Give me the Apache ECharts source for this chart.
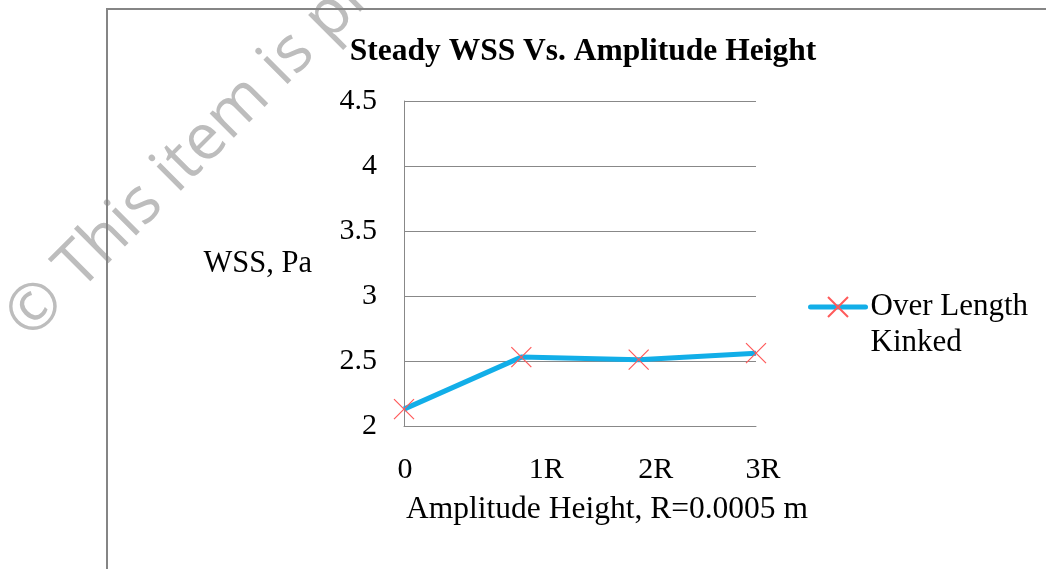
<!DOCTYPE html>
<html>
<head>
<meta charset="utf-8">
<script src="https://cdn.jsdelivr.net/npm/echarts@6/dist/echarts.min.js"></script>
<style>
  html, body { margin: 0; padding: 0; background: #fff; }
  #chart { width: 1046px; height: 569px; }
</style>
</head>
<body>
<div id="chart"></div>
<script>
// Steady wall shear stress against kink amplitude height
const categories = ['0', '1R', '2R', '3R'];
const wssValues = [2.13, 2.53, 2.51, 2.56];
const seriesName = 'Over Length Kinked';
const yTicks = { min: 2, max: 4.5, interval: 0.5 };

const SERIF = '"Liberation Serif", "Times New Roman", serif';

// per-category label nudges (Excel-style placement of the category labels)
const labelRich = {
  c0: { fontSize: 30, fontFamily: SERIF, color: '#000', padding: [0, 0, 0, 2] },
  c1: { fontSize: 30, fontFamily: SERIF, color: '#000', padding: [0, 0, 0, 50] },
  c2: { fontSize: 30, fontFamily: SERIF, color: '#000', padding: [0, 0, 0, 34] },
  c3: { fontSize: 30, fontFamily: SERIF, color: '#000', padding: [0, 0, 0, 14] }
};

const chart = echarts.init(document.getElementById('chart'), null, { renderer: 'canvas' });

chart.setOption({
  backgroundColor: '#fff',
  animation: false,
  title: {
    text: 'Steady WSS Vs. Amplitude Height',
    left: 578,
    top: 31,
    textAlign: 'center',
    textStyle: { fontFamily: SERIF, fontWeight: 'bold', fontSize: 31.5, color: '#000' }
  },
  legend: {
    data: [seriesName],
    left: 808,
    top: 253,
    padding: 0,
    itemWidth: 55,
    itemHeight: 25,
    lineStyle: { width: 5, cap: 'round' },
    // leading blank line keeps the first text line level with the icon
    formatter: function (name) { return '\n' + name.replace(' Kinked', '\nKinked'); },
    textStyle: { fontFamily: SERIF, fontSize: 31, color: '#000', lineHeight: 36 }
  },
  grid: { left: 404, right: 290, top: 101, bottom: 143, containLabel: false },
  xAxis: {
    type: 'category',
    data: categories,
    boundaryGap: false,
    axisLine: { show: true, lineStyle: { color: '#888', width: 1 } },
    axisTick: { show: false },
    axisLabel: {
      margin: 29,
      formatter: function (v, i) { return '{c' + i + '|' + v + '}'; },
      rich: labelRich
    },
    name: 'Amplitude Height, R=0.0005 m',
    nameLocation: 'middle',
    nameGap: 68,
    nameTextStyle: { fontFamily: SERIF, fontSize: 31.5, color: '#000', padding: [0, 0, 0, 54] }
  },
  yAxis: {
    type: 'value',
    min: yTicks.min,
    max: yTicks.max,
    interval: yTicks.interval,
    axisLine: { show: true, lineStyle: { color: '#888', width: 1 } },
    axisTick: { show: false },
    splitLine: { show: true, lineStyle: { color: '#888', width: 1 } },
    axisLabel: { margin: 27, fontFamily: SERIF, fontSize: 30, color: '#000' },
    name: 'WSS, Pa',
    nameLocation: 'middle',
    nameRotate: 0,
    nameGap: 92,
    nameTextStyle: { fontFamily: SERIF, fontSize: 30.5, color: '#000' }
  },
  series: [{
    name: seriesName,
    type: 'line',
    data: wssValues,
    clip: false,
    symbol: 'path://M0,0L20,20M20,0L0,20',
    symbolSize: 20,
    lineStyle: { color: '#12aee8', width: 5 },
    itemStyle: { color: 'rgba(0,0,0,0)', borderColor: '#ff5a5a', borderWidth: 1.2 },
    z: 3
  }],
  graphic: [
    {
      type: 'text',
      z: 1,
      x: 40,
      y: 351,
      rotation: Math.PI / 4,
      style: {
        text: '\u00A9 This item is protected',
        fontFamily: '"Open Sans", "Noto Sans", sans-serif',
        fontSize: 64,
        fill: '#bdbdbd',
        verticalAlign: 'bottom'
      }
    },
    {
      type: 'rect',
      z: 2,
      shape: { x: 107, y: 9, width: 1200, height: 800 },
      style: { fill: 'none', stroke: '#858585', lineWidth: 2 }
    }
  ]
});
</script>
</body>
</html>
